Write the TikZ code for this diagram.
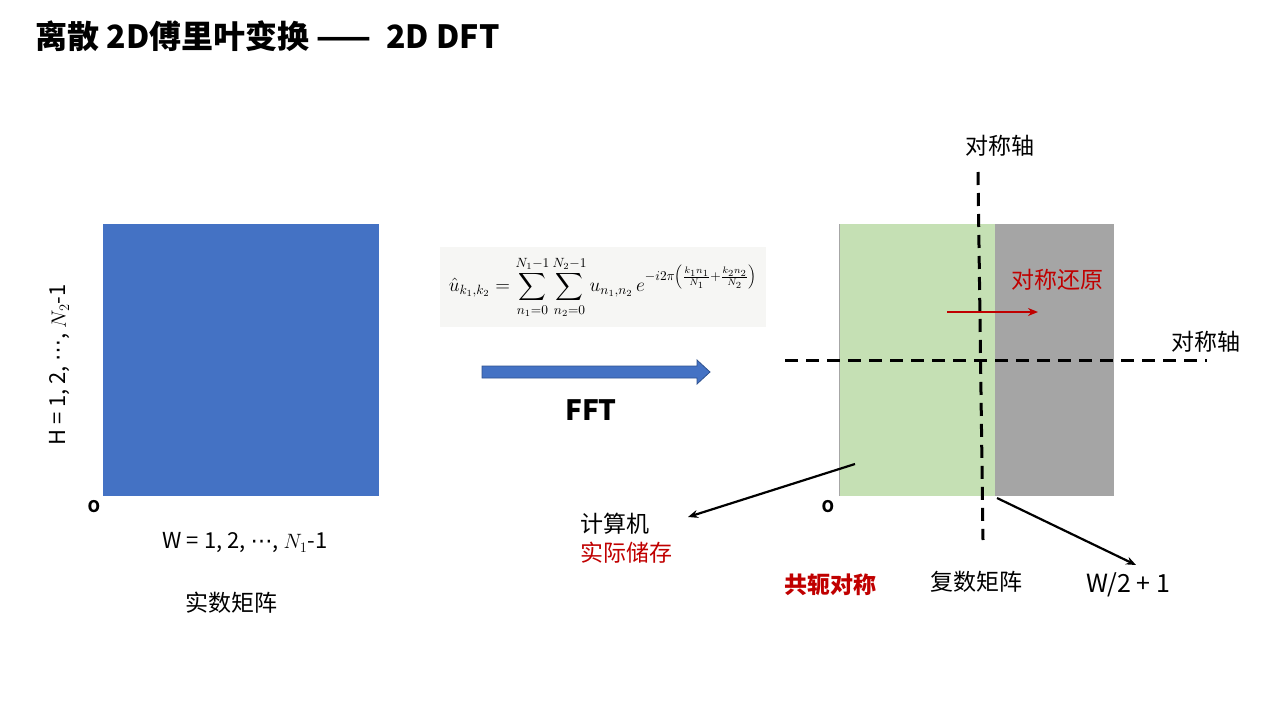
\documentclass[tikz,border=0pt]{standalone}
\usepackage{fontspec}
\usepackage{amsmath}
\setmainfont{Noto Sans CJK SC}
\newfontfamily\symfont{DejaVu Sans}
\usetikzlibrary{arrows.meta}

\definecolor{matBlue}{HTML}{4472C4}
\definecolor{arrowEdge}{HTML}{2F528F}
\definecolor{symGreen}{HTML}{C5E0B4}
\definecolor{symGray}{HTML}{A5A5A5}
\definecolor{noteRed}{HTML}{C00000}
\definecolor{formulaBg}{HTML}{F6F6F4}

\begin{document}
\begin{tikzpicture}[
        x=1pt, y=-1pt,
        >={Stealth[length=10pt,width=8pt]},
        every node/.style={font=\fontsize{23}{26}\selectfont, inner sep=0pt},
        smallText/.style={font=\fontsize{22}{26}\selectfont},
        redText/.style={text=noteRed},
        originMark/.style={font=\bfseries\fontsize{16}{18}\selectfont},
        symAxis/.style={dash pattern=on 13pt off 8pt, line width=3pt},
        pointerLine/.style={->, line width=2.2pt},
        restoreArrow/.style={->, noteRed, line width=2.5pt}
    ]
        \useasboundingbox (0,0) rectangle (1280,720);

        % Title
        \node[anchor=west, font=\bfseries\fontsize{32}{36}\selectfont] (title) at (35,36)
            {离散 2D傅里叶变换 ——~ 2D DFT};

        % Real matrix, left
        \node[fill=matBlue, minimum width=276pt, minimum height=272pt, anchor=north west] (realMat) at (103,224) {};
        \node[originMark] (realO) at (94,507) {O};
        \node[smallText] (realW) at (245,543) {W = 1, 2, {\symfont ⋯}, $N_1$-1};
        \node[smallText, rotate=90] (realH) at (60,365) {H = 1, 2, {\symfont ⋯}, $N_2$-1};
        \node (realName) at (231,603) {实数矩阵};

        % DFT formula and FFT arrow
        \node[fill=formulaBg, minimum width=326pt, minimum height=80pt, font=\fontsize{14}{17}\selectfont] (dftEq) at (603,287)
            {\scalebox{1.34}{$\displaystyle \hat{u}_{k_1,k_2} = \sum_{n_1=0}^{N_1-1}\sum_{n_2=0}^{N_2-1} u_{n_1,n_2}\, e^{-i2\pi\left(\frac{k_1 n_1}{N_1}+\frac{k_2 n_2}{N_2}\right)}$}};
        \coordinate (fftTail) at (482,372);
        \filldraw[fill=matBlue, draw=arrowEdge, line width=0.8pt]
            (fftTail) ++(0,-6) -- ++(215,0) -- ++(0,-6) -- ++(13,12) -- ++(-13,12) -- ++(0,-6) -- ++(-215,0) -- cycle;
        \node[font=\bfseries\fontsize{28}{30}\selectfont] (fftLabel) at (591,410) {FFT};

        % Complex matrix, right: stored half and restored half
        \node[fill=symGreen, minimum width=156pt, minimum height=272pt, anchor=north west] (cplxLeft) at (839,224) {};
        \node[fill=symGray, minimum width=119pt, minimum height=272pt, anchor=north west] (cplxRight) at (995,224) {};
        \draw[gray!70, line width=0.8pt] (cplxLeft.north west) -- (cplxLeft.south west);
        \node[originMark] (cplxO) at (828,507) {O};

        % Symmetry axes
        \coordinate (vTop) at (978,172);
        \coordinate (vBot) at (983,540);
        \coordinate (hLeft) at (785,360);
        \coordinate (hRight) at (1207,360);
        \draw[symAxis] (vTop) -- (vBot);
        \draw[symAxis] (hLeft) -- (hRight);
        \node (vAxisLabel) at (1000,146) {对称轴};
        \node (hAxisLabel) at (1206,342) {对称轴};

        % Restoring the other half by symmetry
        \coordinate (restoreTail) at (947,312);
        \coordinate (restoreTip) at (1038,312);
        \draw[restoreArrow] (restoreTail) -- (restoreTip);
        \node[redText] (restoreLabel) at (1057,280) {对称还原};

        % What the computer actually stores
        \node[anchor=west] (storeA) at (580,524) {计算机};
        \node[anchor=west, redText] (storeB) at (580,553) {实际储存};
        \coordinate (storeTail) at (855,464);
        \coordinate (storeTip) at (688,517);
        \draw[pointerLine] (storeTail) -- (storeTip);

        % Width of the stored half
        \coordinate (halfTail) at (997,498);
        \coordinate (halfTip) at (1136,565);
        \draw[pointerLine] (halfTail) -- (halfTip);
        \node[font=\fontsize{25}{28}\selectfont] (halfW) at (1128,585) {W/2 + 1};

        \node[redText, font=\bfseries\fontsize{23}{26}\selectfont] (conjLabel) at (830,585) {共轭对称};
        \node (cplxName) at (976,582) {复数矩阵};

    \end{tikzpicture}
\end{document}
